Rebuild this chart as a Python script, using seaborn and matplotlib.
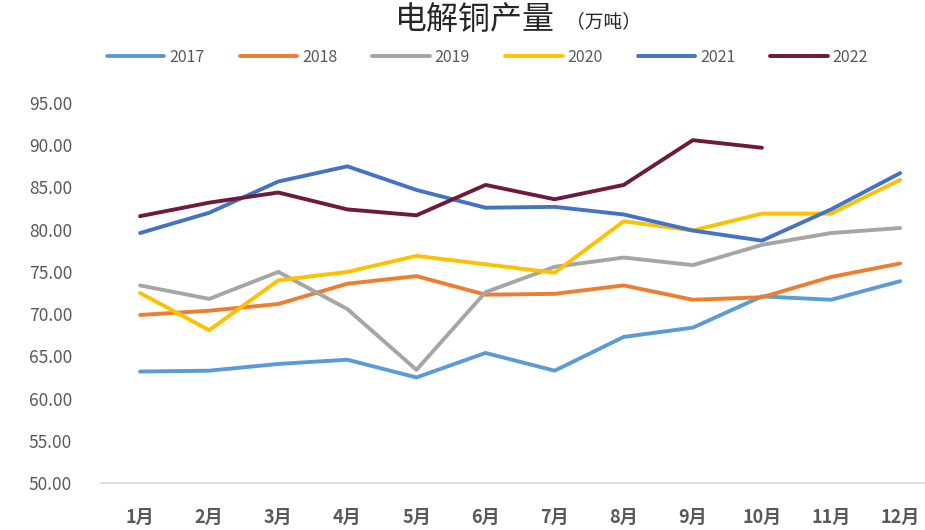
import pandas as pd
import seaborn as sns
import matplotlib.pyplot as plt

# %% DATA (万吨)

months = ['1月', '2月', '3月', '4月', '5月', '6月', '7月', '8月', '9月', '10月', '11月', '12月']
y2017 = [63.2, 63.3, 64.1, 64.6, 62.5, 65.4, 63.3, 67.3, 68.4, 72.1, 71.7, 73.9]
y2018 = [69.9, 70.4, 71.2, 73.6, 74.5, 72.3, 72.4, 73.4, 71.7, 72.0, 74.4, 76.0]
y2019 = [73.4, 71.8, 75.0, 70.6, 63.4, 72.6, 75.6, 76.7, 75.8, 78.2, 79.6, 80.2]
y2020 = [72.5, 68.1, 74.0, 75.0, 76.9, 75.9, 74.9, 81.0, 79.9, 81.9, 81.9, 85.9]
y2021 = [79.6, 82.0, 85.7, 87.5, 84.7, 82.6, 82.7, 81.8, 79.9, 78.7, 82.4, 86.7]
y2022 = [81.6, 83.2, 84.4, 82.4, 81.7, 85.3, 83.6, 85.3, 90.6, 89.7]

years = ['2017', '2018', '2019', '2020', '2021', '2022']
series = [y2017, y2018, y2019, y2020, y2021, y2022]
colors = ['#5B9BD5', '#ED7D31', '#A5A5A5', '#FFC000', '#4472C4', '#6E1A3C']

data = pd.concat([
    pd.DataFrame({'月份': range(len(vals)), '产量': vals, '年份': yr})
    for yr, vals in zip(years, series)
])

# %% PLOT

sns.set_style('white')
plt.rcParams['font.family'] = ['Noto Sans CJK SC', 'DejaVu Sans']

fig = plt.figure(figsize=(9.25, 5.3), dpi=100)
ax = fig.add_axes([100 / 925, 1 - 483 / 530, 825 / 925, 380 / 530])

sns.lineplot(
    data=data,
    x='月份',
    y='产量',
    hue='年份',
    hue_order=years,
    palette=colors,
    linewidth=2.8,
    legend=False,
    ax=ax,
)

ax.set_xlim(-0.58, 11.36)
ax.set_ylim(50, 95)
ax.set_yticks(range(50, 96, 5))
ax.set_yticklabels([f'{v:.2f}' for v in range(50, 96, 5)])
ax.set_xticks(range(len(months)))
ax.set_xticklabels(months)
ax.set_xlabel('')
ax.set_ylabel('')
ax.tick_params(axis='y', labelsize=12.5, labelcolor='#595959', length=0, pad=20)
ax.tick_params(axis='x', labelsize=13, labelcolor='#595959', length=0, pad=18)
for lbl in ax.get_xticklabels():
    lbl.set_fontweight('bold')

sns.despine(ax=ax, top=True, right=True, left=True, bottom=False)
ax.spines['bottom'].set_color('#D9D9D9')
ax.spines['bottom'].set_linewidth(1.2)

handles = [plt.Line2D([], [], color=c, linewidth=2.8) for c in colors]
fig.legend(
    handles,
    years,
    loc='center',
    bbox_to_anchor=(0.527, 1 - 57 / 530),
    ncol=6,
    frameon=False,
    fontsize=11.5,
    handlelength=3.6,
    handletextpad=0.3,
    columnspacing=2.2,
    labelcolor='#595959',
)

fig.text(0.6, 1 - 21 / 530, '电解铜产量', ha='right', va='center', fontsize=23)
fig.text(0.612, 1 - 22 / 530, '（万吨）', ha='left', va='center', fontsize=13.5)

fig.savefig('out.png', dpi=100)
